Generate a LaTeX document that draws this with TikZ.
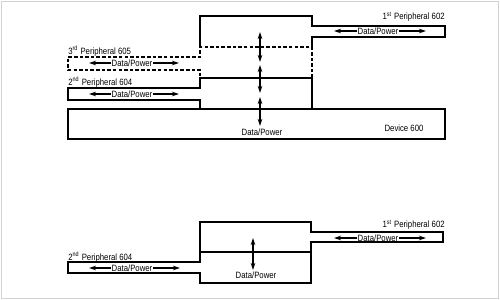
\documentclass[tikz,border=0pt]{standalone}
\usepackage{fontspec}
\setmainfont[FakeStretch=0.85]{Liberation Sans}
\usetikzlibrary{arrows.meta}
\tikzset{
  body/.style={line width=0.8pt},
  dbody/.style={body,dash pattern=on 2pt off 1.2pt},
  lbl/.style={inner sep=0pt,font=\fontsize{5.2}{6}\selectfont},
  flow/.style={line width=0.6pt,{Stealth[length=4pt,width=2.6pt]}-{Stealth[length=4pt,width=2.6pt]}},
  half/.style={line width=0.6pt,-{Stealth[length=4pt,width=2.6pt]}},
}
\begin{document}
\begin{tikzpicture}[x=0.02cm,y=-0.02cm]
  \useasboundingbox (0,0) rectangle (500,300);
  \draw[gray!35,line width=0.5pt] (1,1) rectangle (498,298);

  % upper assembly
  \draw[body] (200,47) -- (200,16) -- (312,16) -- (312,26) -- (445,26) -- (445,37) -- (312,37) -- (312,47);
  \draw[dbody] (312,78) -- (312,47) -- (200,47) -- (200,57) -- (68,57) -- (68,70) -- (200,70) -- (200,78);
  \draw[body] (200,109) -- (200,100) -- (68,100) -- (68,88) -- (200,88) -- (200,78) -- (312,78) -- (312,109);
  \draw[body] (68,109) rectangle (445,139);

  \node[lbl,anchor=east] (p1) at (445,17) {1\textsuperscript{st} Peripheral 602};
  \node[lbl,anchor=west] (p3) at (68,51) {3\textsuperscript{rd} Peripheral 605};
  \node[lbl,anchor=west] (p2) at (68,82) {2\textsuperscript{nd} Peripheral 604};
  \node[lbl] (dev) at (404,128) {Device 600};
  \node[lbl] (dp0) at (262,132) {Data/Power};

  \node[lbl] (dp1) at (378,31) {Data/Power};
  \coordinate (dp1l) at (334,31);
  \coordinate (dp1r) at (426,31);
  \draw[half] (dp1.west) -- (dp1l);
  \draw[half] (dp1.east) -- (dp1r);

  \node[lbl] (dp3) at (132,63) {Data/Power};
  \coordinate (dp3l) at (89,63);
  \coordinate (dp3r) at (179,63);
  \draw[half] (dp3.west) -- (dp3l);
  \draw[half] (dp3.east) -- (dp3r);

  \node[lbl] (dp2) at (132,94) {Data/Power};
  \coordinate (dp2l) at (89,94);
  \coordinate (dp2r) at (179,94);
  \draw[half] (dp2.west) -- (dp2l);
  \draw[half] (dp2.east) -- (dp2r);

  \coordinate (v1) at (260,32);
  \coordinate (v2) at (260,62);
  \coordinate (v3) at (260,65);
  \coordinate (v4) at (260,93);
  \coordinate (v5) at (260,97);
  \coordinate (v6) at (260,126);
  \draw[flow] (v1) -- (v2);
  \draw[flow] (v3) -- (v4);
  \draw[flow] (v5) -- (v6);

  % lower assembly
  \draw[body] (200,252) -- (200,222) -- (311,222) -- (311,232) -- (443,232) -- (443,242) -- (311,242) -- (311,252);
  \draw[body] (200,252) -- (200,262) -- (68,262) -- (68,273) -- (200,273) -- (200,283) -- (311,283) -- (311,252) -- cycle;

  \node[lbl,anchor=east] (q1) at (445,225) {1\textsuperscript{st} Peripheral 602};
  \node[lbl,anchor=west] (q2) at (68,257) {2\textsuperscript{nd} Peripheral 604};
  \node[lbl] (dq0) at (256,275) {Data/Power};

  \node[lbl] (dq1) at (378,238) {Data/Power};
  \coordinate (dq1l) at (334,238);
  \coordinate (dq1r) at (426,238);
  \draw[half] (dq1.west) -- (dq1l);
  \draw[half] (dq1.east) -- (dq1r);

  \node[lbl] (dq2) at (132,268) {Data/Power};
  \coordinate (dq2l) at (89,268);
  \coordinate (dq2r) at (180,268);
  \draw[half] (dq2.west) -- (dq2l);
  \draw[half] (dq2.east) -- (dq2r);

  \coordinate (w1) at (253,238);
  \coordinate (w2) at (253,270);
  \draw[flow] (w1) -- (w2);
\end{tikzpicture}
\end{document}
